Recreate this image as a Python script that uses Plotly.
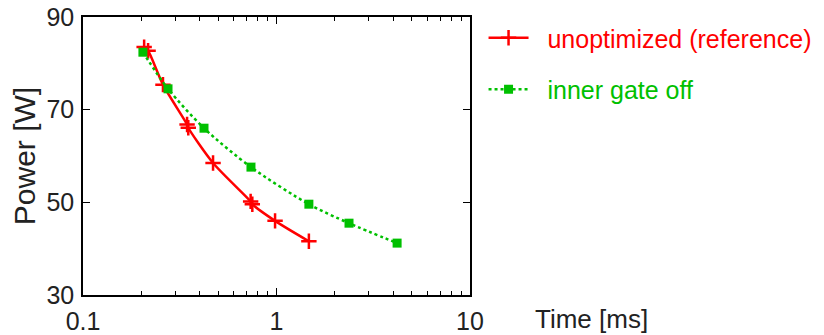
import plotly.graph_objects as go

# Data
ref_time = [0.207, 0.217, 0.259, 0.345, 0.350, 0.470, 0.735, 0.750, 0.983, 1.47]
ref_power = [83.5, 82.7, 75.4, 66.8, 66.1, 58.5, 50.2, 49.6, 46.0, 41.6]
gate_time = [0.204, 0.275, 0.422, 0.738, 1.47, 2.37, 4.20]
gate_power = [82.4, 74.5, 66.0, 57.6, 49.6, 45.5, 41.2]
x_ticks = [0.1, 1, 10]
y_ticks = [30, 50, 70, 90]

RED = "#ff0000"
GREEN = "#00c000"
FONT = "Liberation Sans, Arial, Helvetica, sans-serif"
PAD = "\u00a0\u00a0"

fig = go.Figure()
fig.add_trace(go.Scatter(
    x=ref_time, y=ref_power, mode="lines+markers",
    name=f"<span style='color:{RED}'>{PAD}unoptimized (reference)</span>",
    line=dict(color=RED, width=2.5, shape="spline", smoothing=0.8),
    marker=dict(symbol="cross-thin", size=11, line=dict(color=RED, width=2.5), color=RED),
    legendgroup="a",
))
fig.add_trace(go.Scatter(
    x=gate_time, y=gate_power, mode="lines+markers",
    name=f"<span style='color:{GREEN}'>{PAD}inner gate off</span>",
    line=dict(color=GREEN, width=2.5, dash="dot", shape="spline", smoothing=0.8),
    marker=dict(symbol="square", size=9, color=GREEN),
    legendgroup="b",
))

fig.update_layout(
    width=816, height=327,
    margin=dict(l=75, r=354, t=9, b=40, autoexpand=False),
    paper_bgcolor="white", plot_bgcolor="white",
    font=dict(family=FONT, size=25, color="#222222"),
    showlegend=True,
    legend=dict(x=1.035, y=1.007, xanchor="left", yanchor="top",
                font=dict(size=25), tracegroupgap=16, bgcolor="rgba(0,0,0,0)",
                itemwidth=40),
    annotations=[dict(text="Time [ms]", xref="paper", yref="paper",
                      x=1.163, y=-0.026, xanchor="left", yanchor="top",
                      showarrow=False, font=dict(size=26, color="#222222"))],
)
fig.update_xaxes(
    type="log", range=[-1, 1], tickvals=x_ticks, ticktext=["0.1", "1", "10"],
    ticks="inside", ticklen=7, tickwidth=1, tickcolor="black",
    showline=True, linecolor="black", linewidth=1.5, mirror="ticks",
    showgrid=False, zeroline=False, automargin=False, ticklabelstandoff=3,
    ticklabeloverflow="allow",
    minor=dict(ticks="inside", ticklen=4, tickcolor="black", dtick="D1", showgrid=False),
)
fig.update_yaxes(
    range=[30, 90], tickvals=y_ticks,
    ticks="inside", ticklen=7, tickwidth=1, tickcolor="black",
    showline=True, linecolor="black", linewidth=1.5, mirror="ticks",
    showgrid=False, zeroline=False, automargin=False, ticklabelstandoff=2,
    ticklabeloverflow="allow",
    title=dict(text="Power [W]", standoff=8),
)
fig.write_html("out.html")
